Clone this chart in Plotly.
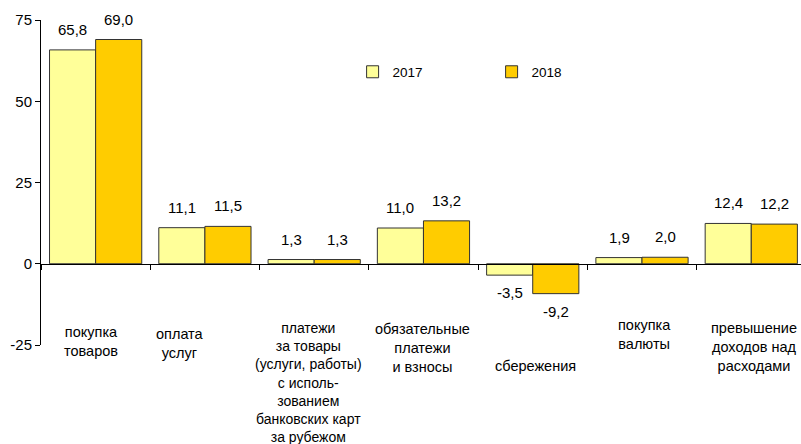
import plotly.graph_objects as go

# ── Data ──────────────────────────────────────────────────────────────────────
CATEGORIES = [
    "покупка<br>товаров",
    "оплата<br>услуг",
    "платежи<br>за товары<br>(услуги, работы)<br>с исполь-<br>зованием<br>банковских карт<br>за рубежом",
    "обязательные<br>платежи<br>и взносы",
    "сбережения",
    "покупка<br>валюты",
    "превышение<br>доходов над<br>расходами",
]
VALUES_2017 = [65.8, 11.1, 1.3, 11.0, -3.5, 1.9, 12.4]
VALUES_2018 = [69.0, 11.5, 1.3, 13.2, -9.2, 2.0, 12.2]
Y_TICKS = [-25, 0, 25, 50, 75]
Y_TICKTEXT = ["-25", "0", "25", "50", "75"]

# ── Style ─────────────────────────────────────────────────────────────────────
C2017 = "#FFFF99"
C2018 = "#FFCC00"
EDGE = "#333333"
TEXT = "#000000"
FONT = "Liberation Sans, Arial, sans-serif"
FS = 15          # ticks / value labels
FS_LEG = 13.5    # legend

# category caption placement (pixel tweaks + paper-y centres + sizes)
LABEL_XSHIFT = [-5, -25, -6, -1, 3, 2, 3]
LABEL_YCENTER = [0.012, 0.005, -0.114, -0.009, -0.065, 0.031, -0.006]
LABEL_SIZE = [14.5, 14.5, 14, 14.5, 14.5, 14.5, 14.5]

x_idx = list(range(len(CATEGORIES)))


def fmt(v):
    return f"{v:.1f}".replace(".", ",")


fig = go.Figure()
fig.add_trace(go.Bar(
    x=x_idx, y=VALUES_2017, name="2017",
    marker=dict(color=C2017, line=dict(color=EDGE, width=1)),
))
fig.add_trace(go.Bar(
    x=x_idx, y=VALUES_2018, name="2018",
    marker=dict(color=C2018, line=dict(color=EDGE, width=1)),
))

annotations = []
# value labels
for vals, shift in ((VALUES_2017, -23), (VALUES_2018, 23)):
    for i, v in enumerate(vals):
        annotations.append(dict(
            x=i, y=v, xref="x", yref="y", text=fmt(v), showarrow=False,
            xshift=shift, yshift=10 if v >= 0 else -7,
            yanchor="bottom" if v >= 0 else "top",
            font=dict(family=FONT, size=FS, color=TEXT),
        ))
# category captions
for i, lab in enumerate(CATEGORIES):
    annotations.append(dict(
        x=i, y=LABEL_YCENTER[i], xref="x", yref="paper", text=lab,
        showarrow=False, xshift=LABEL_XSHIFT[i], yanchor="middle",
        align="center",
        font=dict(family=FONT, size=LABEL_SIZE[i], color=TEXT),
    ))

fig.update_layout(
    width=801, height=444,
    paper_bgcolor="white", plot_bgcolor="white",
    font=dict(family=FONT, size=FS, color=TEXT),
    margin=dict(l=41, r=0, t=20, b=99),
    barmode="group", bargap=0.156, bargroupgap=0,
    showlegend=True,
    legend=dict(
        orientation="h", x=0.41, y=0.84, xanchor="left", yanchor="middle",
        entrywidth=94, entrywidthmode="pixels",
        bgcolor="rgba(0,0,0,0)", font=dict(size=FS_LEG),
    ),
    annotations=annotations,
    xaxis=dict(
        range=[-0.5, 6.455], anchor="free", position=0.25,
        showline=True, linecolor="#000000", linewidth=1,
        ticks="outside", ticklen=5, tickcolor="#000000",
        tickmode="array", tickvals=[i - 0.5 for i in x_idx],
        showticklabels=False, showgrid=False, zeroline=False,
    ),
    yaxis=dict(
        range=[-25, 75], tickvals=Y_TICKS, ticktext=Y_TICKTEXT,
        showline=True, linecolor="#000000", linewidth=1,
        ticks="outside", ticklen=5, tickcolor="#000000",
        showgrid=False, zeroline=False,
        tickfont=dict(size=FS),
    ),
)

fig.write_html("out.html", config={"displayModeBar": False},
               post_script="document.body.style.margin='0';")
